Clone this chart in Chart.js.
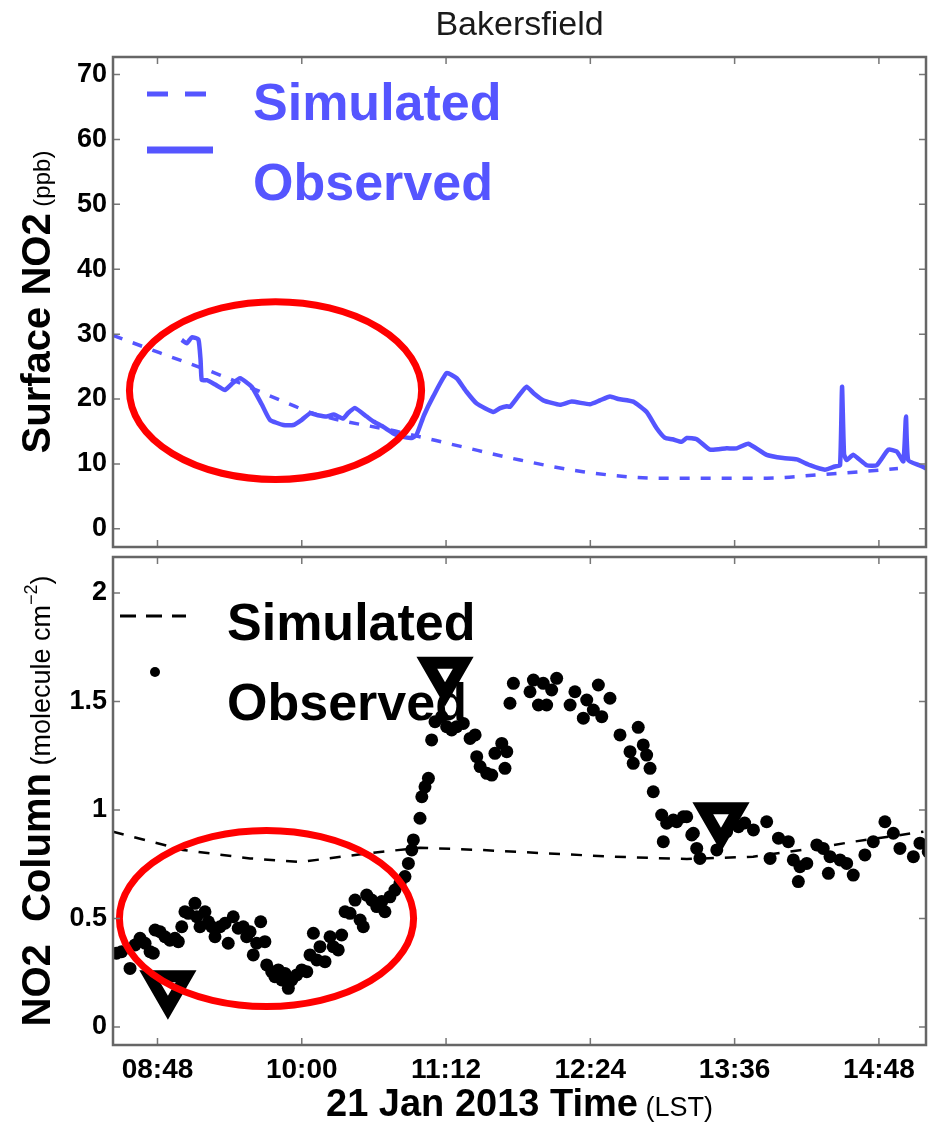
<!DOCTYPE html>
<html>
<head>
<meta charset="utf-8">
<script src="https://cdn.jsdelivr.net/npm/chart.js@4.4.1/dist/chart.umd.min.js"></script>
<style>
  html, body { margin: 0; padding: 0; background: #fff; }
  #wrap { position: relative; width: 942px; height: 1122px; }
  canvas { position: absolute; left: 0; }
  #surface { top: 0; }
  #column { top: 552px; }
</style>
</head>
<body>
<div id="wrap">
  <canvas id="surface" width="942" height="552"></canvas>
  <canvas id="column" width="942" height="570"></canvas>
</div>
<script>
// time axis in minutes after midnight (LST)
const timeMin = 505.8;
const timeMax = 911.5;
const timeTicks = ['08:48', '10:00', '11:12', '12:24', '13:36', '14:48'];

// surface NO2 (ppb)
const surfSimTime = [505.8, 529.3, 559.2, 592.6, 605.6, 649.0, 679.3, 708.9, 740.3, 778.8, 832.1, 857.1, 878.5, 897.5];
const surfSimNO2  = [29.8, 27.1, 23.7, 19.4, 17.8, 14.9, 12.7, 10.6, 8.8, 7.8, 7.8, 8.3, 8.8, 9.3];

const surfObsTime = [540.1, 542.6, 545.1, 548.4, 549.5, 550.1, 552.6, 557.0, 561.7, 565.0, 569.2, 575.0, 580.0, 584.1,
  590.8, 595.8, 600.0, 604.1, 608.0, 612.4, 616.0, 620.7, 623.0, 626.6, 632.4, 636.0, 640.7, 645.7, 650.0, 654.9,
  657.3, 661.0, 665.6, 672.3, 677.3, 682.0, 687.3, 695.6, 699.0, 702.3, 703.9, 708.0, 712.2, 716.0, 720.5, 728.9,
  734.7, 743.8, 748.8, 753.8, 758.0, 765.4, 772.1, 777.1, 781.3, 785.0, 789.6, 792.1, 797.1, 803.7, 812.0, 817.0,
  822.8, 832.0, 840.3, 847.0, 853.6, 861.1, 866.0, 868.6, 869.6, 870.6, 871.9, 875.2, 881.9, 886.9, 892.7, 896.9,
  900.2, 901.5, 902.6, 908.0, 911.8];
const surfObsNO2 = [29.1, 28.6, 29.5, 29.2, 26.0, 22.9, 22.9, 22.2, 21.4, 22.3, 23.2, 21.9, 19.2, 16.8,
  16.0, 16.0, 16.8, 17.8, 17.5, 17.3, 17.6, 17.0, 17.8, 18.6, 17.3, 16.5, 15.7, 14.7, 14.2, 14.0,
  14.5, 17.5, 20.4, 24.0, 23.2, 21.2, 19.3, 18.0, 18.6, 18.9, 18.8, 20.4, 21.9, 20.8, 19.8, 19.1,
  19.6, 19.2, 19.8, 20.4, 20.0, 19.6, 18.0, 15.5, 14.0, 13.8, 13.4, 14.0, 13.8, 12.2, 12.4, 12.4,
  13.1, 11.4, 10.9, 10.7, 9.8, 9.1, 9.6, 9.8, 21.9, 11.5, 10.6, 11.4, 9.8, 9.8, 12.2, 11.9,
  10.4, 17.3, 10.6, 9.8, 9.3];

// NO2 column (molecule cm^-2)
const colSimTime = [505.8, 540.7, 574.2, 599.1, 632.5, 658.9, 688.9, 722.4, 755.3, 792.2, 825.2, 858.6, 875.3, 910.2];
const colSimNO2  = [0.90, 0.816, 0.777, 0.76, 0.80, 0.826, 0.816, 0.80, 0.785, 0.774, 0.785, 0.828, 0.854, 0.90];

const colObsTime = [507.6, 510.1, 514.3, 516.8, 519.3, 521.8, 524.3, 525.9, 526.8, 529.3, 531.7, 534.2, 536.7, 538.4,
  540.1, 541.7, 543.4, 546.7, 547.6, 549.2, 551.7, 553.4, 555.1, 556.7, 559.2, 561.7, 563.3, 565.8, 568.3, 570.8,
  572.5, 574.2, 575.8, 577.5, 579.5, 581.6, 582.5, 585.0, 586.6, 588.3, 590.0, 591.6, 593.3, 595.0, 597.5, 600.0,
  602.5, 604.1, 605.8, 607.5, 609.1, 611.6, 614.1, 615.7, 618.2, 619.9, 621.6, 624.1, 626.6, 629.1, 630.7, 632.4,
  634.9, 637.4, 639.9, 641.5, 644.0, 646.5, 649.0, 651.5, 653.2, 654.9, 655.7, 659.0, 659.9, 661.5, 663.2, 664.8,
  666.5, 669.8, 672.3, 674.8, 677.3, 680.6, 684.0, 686.5, 687.3, 689.0, 692.3, 694.8, 696.4, 699.8, 701.4, 702.3,
  703.9, 705.6, 713.9, 715.6, 718.1, 720.5, 722.2, 724.7, 727.2, 733.9, 736.3, 740.5, 742.2, 745.5, 748.0, 749.7,
  753.8, 758.8, 763.8, 765.4, 767.9, 770.4, 772.1, 773.8, 775.4, 779.6, 780.4, 782.1, 785.4, 787.1, 790.4, 792.1,
  794.6, 795.4, 797.1, 798.7, 807.1, 812.0, 817.9, 821.0, 825.4, 832.0, 833.7, 837.9, 842.8, 845.3, 847.8, 848.6,
  852.0, 857.0, 860.2, 862.8, 863.6, 868.6, 871.9, 875.2, 881.0, 885.2, 891.0, 895.2, 898.5, 905.2, 908.5, 912.6];
const colObsNO2 = [0.34, 0.347, 0.27, 0.378, 0.409, 0.386, 0.347, 0.34, 0.447, 0.439, 0.416, 0.40, 0.409, 0.393,
  0.462, 0.531, 0.524, 0.57, 0.508, 0.462, 0.531, 0.485, 0.462, 0.416, 0.462, 0.478, 0.386, 0.508, 0.455, 0.462,
  0.416, 0.439, 0.332, 0.386, 0.485, 0.393, 0.286, 0.255, 0.232, 0.263, 0.217, 0.247, 0.178, 0.217, 0.24, 0.263,
  0.255, 0.332, 0.432, 0.309, 0.37, 0.301, 0.416, 0.37, 0.355, 0.424, 0.531, 0.524, 0.585, 0.493, 0.462, 0.608,
  0.585, 0.555, 0.578, 0.531, 0.60, 0.631, 0.662, 0.693, 0.754, 0.816, 0.862, 0.962, 1.061, 1.107, 1.146, 1.323,
  1.407, 1.43, 1.384, 1.369, 1.384, 1.399, 1.33, 1.346, 1.246, 1.20, 1.169, 1.161, 1.261, 1.307, 1.192, 1.269,
  1.492, 1.584, 1.545, 1.599, 1.484, 1.584, 1.484, 1.553, 1.607, 1.484, 1.545, 1.423, 1.507, 1.461, 1.576, 1.43,
  1.515, 1.346, 1.269, 1.215, 1.381, 1.30, 1.253, 1.192, 1.084, 0.977, 0.854, 0.939, 0.954, 0.946, 0.969, 0.969,
  0.885, 0.893, 0.823, 0.777, 0.816, 0.90, 0.923, 0.94, 0.908, 0.946, 0.777, 0.87, 0.854, 0.77, 0.67, 0.739,
  0.754, 0.839, 0.823, 0.708, 0.785, 0.77, 0.754, 0.70, 0.793, 0.854, 0.946, 0.893, 0.823, 0.785, 0.847, 0.808];

const markTime = [533.2, 671.5, 809.2];
const markNO2  = [0.186, 1.63, 0.96];

// highlight rings: centre time, centre value, half width (min), half height (value)
const surfRing = [586.9, 21.3, 72.9, 13.7];
const colRing  = [582.4, 0.50, 73.4, 0.406];

const blue = '#5555ff';
const FONT = '"Liberation Sans", Arial, sans-serif';
Chart.defaults.font.family = FONT;
Chart.defaults.color = '#000';

function toMin(s) {
  const [h, m] = s.split(':').map(Number);
  return h * 60 + m;
}
function fmtTime(v) {
  const h = Math.floor(v / 60), m = Math.round(v - h * 60);
  return String(h).padStart(2, '0') + ':' + String(m).padStart(2, '0');
}
function pairs(xs, ys) {
  return xs.map((x, i) => ({ x: x, y: ys[i] }));
}
function setTimeTicks(scale) {
  scale.ticks = timeTicks.map(s => ({ value: toMin(s) }));
}
// fixed axis sizes, no extra label padding
function fixX(h) {
  return s => { s.height = h; s.paddingLeft = 0; s.paddingRight = 0; };
}
function fixY(s) {
  s.width = 113; s.paddingTop = 0; s.paddingBottom = 0;
}

function drawRing(chart, ring) {
  const { ctx, scales: { x, y } } = chart;
  const cx = x.getPixelForValue(ring[0]);
  const cy = y.getPixelForValue(ring[1]);
  const rx = Math.abs(x.getPixelForValue(ring[0] + ring[2]) - cx);
  const ry = Math.abs(y.getPixelForValue(ring[1] + ring[3]) - cy);
  ctx.save();
  ctx.strokeStyle = '#ff0000';
  ctx.lineWidth = 7;
  ctx.beginPath();
  ctx.ellipse(cx, cy, rx, ry, 0, 0, Math.PI * 2);
  ctx.stroke();
  ctx.restore();
}

function drawFrame(chart) {
  const { ctx, chartArea: a, scales: { x, y } } = chart;
  const len = 7;
  ctx.save();
  ctx.strokeStyle = '#777';
  ctx.lineWidth = 1.5;
  ctx.beginPath();
  x.ticks.forEach(t => {
    const px = x.getPixelForValue(t.value);
    ctx.moveTo(px, a.bottom); ctx.lineTo(px, a.bottom - len);
    ctx.moveTo(px, a.top); ctx.lineTo(px, a.top + len);
  });
  y.ticks.forEach(t => {
    const py = y.getPixelForValue(t.value);
    ctx.moveTo(a.left, py); ctx.lineTo(a.left + len, py);
    ctx.moveTo(a.right, py); ctx.lineTo(a.right - len, py);
  });
  ctx.stroke();
  ctx.strokeStyle = '#666';
  ctx.lineWidth = 2.5;
  ctx.strokeRect(a.left, a.top, a.right - a.left, a.bottom - a.top);
  ctx.restore();
}

// text made of pieces with different fonts, centred on (cx, baseline cy)
function drawMixed(ctx, parts, cx, cy, rotate) {
  ctx.save();
  ctx.translate(cx, cy);
  if (rotate) ctx.rotate(-Math.PI / 2);
  ctx.textAlign = 'left';
  ctx.textBaseline = 'alphabetic';
  ctx.fillStyle = '#000';
  let total = 0;
  parts.forEach(p => { ctx.font = p.font; p.w = ctx.measureText(p.text).width; total += p.w; });
  let pos = -total / 2;
  parts.forEach(p => {
    ctx.font = p.font;
    ctx.fillText(p.text, pos, p.dy || 0);
    pos += p.w;
  });
  ctx.restore();
}

const surfDecor = {
  id: 'surfDecor',
  afterDraw(chart) {
    const { ctx, chartArea: a } = chart;
    drawRing(chart, surfRing);
    drawFrame(chart);

    ctx.save();
    ctx.fillStyle = '#1a1a1a';
    ctx.font = '34px ' + FONT;
    ctx.textAlign = 'center';
    ctx.fillText('Bakersfield', (a.left + a.right) / 2, 35);

    // legend
    ctx.strokeStyle = blue;
    ctx.lineWidth = 5;
    ctx.setLineDash([21, 17]);
    ctx.beginPath(); ctx.moveTo(147, 94); ctx.lineTo(207, 94); ctx.stroke();
    ctx.setLineDash([]);
    ctx.lineWidth = 7;
    ctx.beginPath(); ctx.moveTo(147, 150); ctx.lineTo(213, 150); ctx.stroke();
    ctx.fillStyle = blue;
    ctx.font = 'bold 52px ' + FONT;
    ctx.textAlign = 'left';
    ctx.fillText('Simulated', 253, 120);
    ctx.fillText('Observed', 253, 200);
    ctx.restore();

    drawMixed(ctx, [
      { text: 'Surface NO2', font: 'bold 40px ' + FONT },
      { text: ' (ppb)', font: '24px ' + FONT }
    ], 50, (a.top + a.bottom) / 2, true);
  }
};

const colDecor = {
  id: 'colDecor',
  afterDraw(chart) {
    const { ctx, chartArea: a } = chart;
    drawRing(chart, colRing);
    drawFrame(chart);

    ctx.save();
    ctx.strokeStyle = '#000';
    ctx.lineWidth = 3;
    ctx.setLineDash([16, 10]);
    ctx.beginPath(); ctx.moveTo(120, 64); ctx.lineTo(186, 64); ctx.stroke();
    ctx.setLineDash([]);
    ctx.fillStyle = '#000';
    ctx.beginPath(); ctx.arc(155, 120, 5, 0, Math.PI * 2); ctx.fill();
    ctx.font = 'bold 52px ' + FONT;
    ctx.textAlign = 'left';
    ctx.fillText('Simulated', 227, 88);
    ctx.fillText('Observed', 227, 168);
    ctx.restore();

    drawMixed(ctx, [
      { text: 'NO2  Column', font: 'bold 40px ' + FONT },
      { text: ' (molecule cm', font: '27px ' + FONT },
      { text: '\u22122', font: '18px ' + FONT, dy: -13 },
      { text: ')', font: '27px ' + FONT }
    ], 50, (a.top + a.bottom) / 2, true);

    drawMixed(ctx, [
      { text: '21 Jan 2013 Time', font: 'bold 38px ' + FONT },
      { text: ' (LST)', font: '27px ' + FONT }
    ], (a.left + a.right) / 2, 564, false);
  }
};

new Chart(document.getElementById('surface'), {
  type: 'scatter',
  data: {
    datasets: [
      {
        label: 'Simulated',
        data: pairs(surfSimTime, surfSimNO2),
        showLine: true,
        borderColor: blue,
        borderWidth: 3.5,
        borderDash: [10, 11],
        pointRadius: 0,
        cubicInterpolationMode: 'monotone'
      },
      {
        label: 'Observed',
        data: pairs(surfObsTime, surfObsNO2),
        showLine: true,
        borderColor: blue,
        borderWidth: 4.5,
        pointRadius: 0,
        tension: 0.15
      }
    ]
  },
  options: {
    responsive: false,
    animation: false,
    devicePixelRatio: 1,
    layout: { autoPadding: false, padding: { top: 57, right: 16, left: 0, bottom: 0 } },
    plugins: { legend: { display: false }, tooltip: { enabled: false } },
    scales: {
      x: {
        type: 'linear', min: timeMin, max: timeMax,
        grid: { display: false, drawTicks: false }, border: { display: false },
        ticks: { display: false },
        afterBuildTicks: setTimeTicks,
        afterFit: fixX(5)
      },
      y: {
        min: -2.8, max: 72.7,
        grid: { display: false, drawTicks: false }, border: { display: false },
        ticks: { stepSize: 10, includeBounds: false, padding: 6, color: '#000', font: { size: 27, weight: 'bold' } },
        afterFit: fixY
      }
    }
  },
  plugins: [surfDecor]
});

new Chart(document.getElementById('column'), {
  type: 'scatter',
  data: {
    datasets: [
      {
        label: 'Marks',
        data: pairs(markTime, markNO2),
        pointStyle: 'triangle',
        rotation: 180,
        pointRadius: 21,
        borderWidth: 12,
        borderColor: '#000',
        backgroundColor: 'rgba(0,0,0,0)'
      },
      {
        label: 'Simulated',
        data: pairs(colSimTime, colSimNO2),
        showLine: true,
        borderColor: '#000',
        borderWidth: 2.5,
        borderDash: [11, 11],
        pointRadius: 0
      },
      {
        label: 'Observed',
        data: pairs(colObsTime, colObsNO2),
        pointRadius: 6.5,
        borderWidth: 0,
        backgroundColor: '#000'
      }
    ]
  },
  options: {
    responsive: false,
    animation: false,
    devicePixelRatio: 1,
    layout: { autoPadding: false, padding: { top: 5, right: 16, left: 0, bottom: 0 } },
    plugins: { legend: { display: false }, tooltip: { enabled: false } },
    scales: {
      x: {
        type: 'linear', min: timeMin, max: timeMax,
        grid: { display: false, drawTicks: false }, border: { display: false },
        ticks: { padding: 8, color: '#000', maxRotation: 0, font: { size: 28, weight: 'bold' }, callback: v => fmtTime(v) },
        afterBuildTicks: setTimeTicks,
        afterFit: fixX(77)
      },
      y: {
        min: -0.083, max: 2.166,
        grid: { display: false, drawTicks: false }, border: { display: false },
        ticks: { stepSize: 0.5, includeBounds: false, padding: 6, color: '#000', font: { size: 27, weight: 'bold' }, callback: v => String(v) },
        afterFit: fixY
      }
    }
  },
  plugins: [colDecor]
});
</script>
</body>
</html>
